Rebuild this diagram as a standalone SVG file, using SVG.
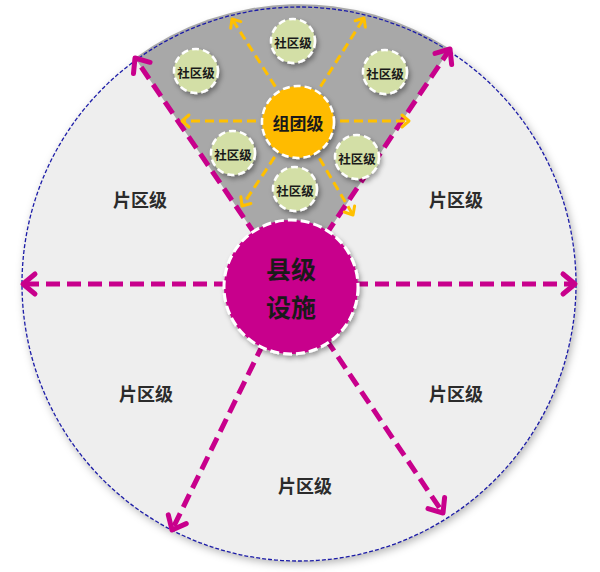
<svg xmlns="http://www.w3.org/2000/svg" width="600" height="572" viewBox="0 0 600 572">
<style>
.t{font-family:"Noto Sans CJK SC","Noto Sans",sans-serif;font-weight:bold;text-anchor:middle;dominant-baseline:central}
.pq{font-size:18px;fill:#2b2b2b}
.sq{font-size:12.5px;fill:#1a1a1a}
.mg{fill:none;stroke:#c8008c;stroke-width:5;stroke-dasharray:14 7}
.or{fill:none;stroke:#ffc000;stroke-width:3;stroke-dasharray:9 5}
.g{fill:#d3dfa6;stroke:#fff;stroke-width:2.5;stroke-dasharray:7 4}
</style>
<defs>
<filter id="sh" x="-30%" y="-30%" width="160%" height="160%"><feDropShadow dx="2" dy="3" stdDeviation="2.5" flood-color="#000" flood-opacity="0.35"/></filter>
<filter id="bsh" x="-10%" y="-10%" width="120%" height="120%"><feDropShadow dx="2" dy="3" stdDeviation="4" flood-color="#000" flood-opacity="0.3"/></filter>
<marker id="am" markerUnits="userSpaceOnUse" markerWidth="30" markerHeight="30" refX="0" refY="0" viewBox="-16 -15 20 30" orient="auto"><path d="M-12,-10 L0,0 L-12,10" fill="none" stroke="#c8008c" stroke-width="5" stroke-linecap="round" stroke-linejoin="round"/></marker>
<marker id="ao" markerUnits="userSpaceOnUse" markerWidth="20" markerHeight="20" refX="0" refY="0" viewBox="-10 -10 14 20" orient="auto"><path d="M-7,-6 L0,0 L-7,6" fill="none" stroke="#ffc000" stroke-width="3" stroke-linecap="round" stroke-linejoin="round"/></marker>
</defs>
<g id="base">
<circle cx="299" cy="284" r="277" fill="#eeeeee" filter="url(#bsh)"/>
<path d="M291,287 L135,58 A277,277 0 0 1 450,49 Z" fill="#a8a8a8"/>
<circle cx="299" cy="284" r="277" fill="none" stroke="#1c1ca8" stroke-width="1.3" stroke-dasharray="4 2"/>
</g>
<g id="connectors">
<line class="mg" x1="291" y1="287" x2="135" y2="58" marker-end="url(#am)"/>
<line class="mg" x1="291" y1="287" x2="450" y2="49" marker-end="url(#am)"/>
<line class="mg" x1="291" y1="284" x2="23" y2="284" marker-end="url(#am)"/>
<line class="mg" x1="291" y1="284" x2="575" y2="284" marker-end="url(#am)"/>
<line class="mg" x1="291" y1="287" x2="172" y2="530" marker-end="url(#am)"/>
<line class="mg" x1="291" y1="287" x2="443" y2="513" marker-end="url(#am)"/>
<line class="or" x1="298" y1="122" x2="232" y2="19" marker-end="url(#ao)"/>
<line class="or" x1="298" y1="122" x2="364" y2="18" marker-end="url(#ao)"/>
<line class="or" x1="298" y1="121" x2="182" y2="121" marker-end="url(#ao)"/>
<line class="or" x1="298" y1="121" x2="409" y2="121" marker-end="url(#ao)"/>
<line class="or" x1="298" y1="122" x2="242" y2="206" marker-end="url(#ao)"/>
<line class="or" x1="298" y1="122" x2="353" y2="215" marker-end="url(#ao)"/>
</g>
<g id="n-sq1"><circle class="g" cx="293" cy="41" r="22" filter="url(#sh)"/><text class="t sq" x="293" y="42">社区级</text></g>
<g id="n-sq2"><circle class="g" cx="196" cy="71" r="22" filter="url(#sh)"/><text class="t sq" x="196" y="72">社区级</text></g>
<g id="n-sq3"><circle class="g" cx="385" cy="72" r="22" filter="url(#sh)"/><text class="t sq" x="385" y="73">社区级</text></g>
<g id="n-sq4"><circle class="g" cx="233" cy="153" r="22" filter="url(#sh)"/><text class="t sq" x="233" y="154">社区级</text></g>
<g id="n-sq5"><circle class="g" cx="357" cy="157" r="22" filter="url(#sh)"/><text class="t sq" x="357" y="158">社区级</text></g>
<g id="n-sq6"><circle class="g" cx="295" cy="189" r="22" filter="url(#sh)"/><text class="t sq" x="295" y="190">社区级</text></g>
<g id="n-zt"><circle cx="298" cy="122" r="36" fill="#ffbb00" stroke="#fff" stroke-width="2.5" stroke-dasharray="7 4" filter="url(#sh)"/><text class="t" x="298" y="122" font-size="17" fill="#1a1a1a">组团级</text></g>
<g id="n-xj"><circle cx="291" cy="287" r="67" fill="#c8008c" stroke="#fff" stroke-width="3" stroke-dasharray="9 4" filter="url(#sh)"/><text class="t" x="291" y="268" font-size="25" fill="#1a1a1a">县级</text><text class="t" x="291" y="306" font-size="25" fill="#1a1a1a">设施</text></g>
<g id="labels">
<text class="t pq" x="140" y="199">片区级</text>
<text class="t pq" x="456" y="199">片区级</text>
<text class="t pq" x="146" y="393">片区级</text>
<text class="t pq" x="456" y="393">片区级</text>
<text class="t pq" x="305" y="485">片区级</text>
</g>
</svg>
